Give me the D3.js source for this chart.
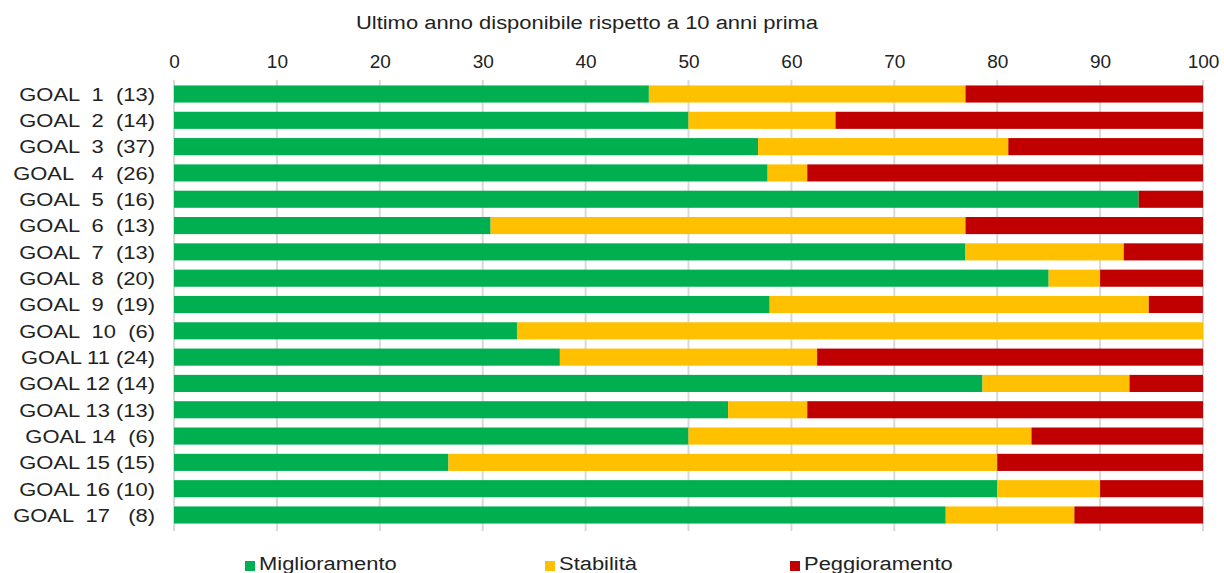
<!DOCTYPE html>
<html><head><meta charset="utf-8">
<script src="https://cdn.jsdelivr.net/npm/d3@7"></script>
<style>body{margin:0;background:#fff}svg{display:block}text{font-family:"Liberation Sans",Arial,sans-serif;fill:#222}</style>
</head><body><svg id="c" width="1224" height="573"></svg>
<script>
const categories=["GOAL  1  (13)","GOAL  2  (14)","GOAL  3  (37)","GOAL   4  (26)","GOAL  5  (16)","GOAL  6  (13)","GOAL  7  (13)","GOAL  8  (20)","GOAL  9  (19)","GOAL  10  (6)","GOAL 11 (24)","GOAL 12 (14)","GOAL 13 (13)","GOAL 14  (6)","GOAL 15 (15)","GOAL 16 (10)","GOAL  17   (8)"];
const miglioramento=[46.15,50.00,56.76,57.69,93.75,30.77,76.92,85.00,57.89,33.33,37.50,78.57,53.85,50.00,26.67,80.00,75.00];
const stabilita=[30.77,14.29,24.32,3.85,0,46.15,15.38,5.00,36.84,66.67,25.00,14.29,7.69,33.33,53.33,10.00,12.50];
const peggioramento=[23.08,35.71,18.92,38.46,6.25,23.08,7.69,10.00,5.26,0,37.50,7.14,38.46,16.67,20.00,10.00,12.50];
const seriesNames=["Miglioramento","Stabilità","Peggioramento"];
const colors=["#00B050","#FFC000","#C00000"];
const tickValues=[0,10,20,30,40,50,60,70,80,90,100];
const title="Ultimo anno disponibile rispetto a 10 anni prima";

const SX=1.155, FS=19;
const svg=d3.select("#c");
const x=d3.scaleLinear().domain([0,100]).range([174,1203]);
const y=d3.scaleBand().domain(categories).range([80.85,528.15]).paddingInner(0.35).paddingOuter(0.175);

// gridlines
svg.append("g").selectAll("line").data(tickValues).join("line")
 .attr("x1",d=>x(d)).attr("x2",d=>x(d)).attr("y1",80).attr("y2",531)
 .attr("stroke","#d9d9d9").attr("stroke-width",2);

// axis labels on top
const ax=svg.append("g").attr("transform","translate(0,74)").call(d3.axisTop(x).tickValues(tickValues).tickSize(0).tickPadding(6));
ax.select(".domain").remove();
ax.selectAll("text").attr("font-size",19).attr("fill","#222").attr("font-family","Liberation Sans, Arial, sans-serif");

svg.append("text").attr("transform","translate(587,29) scale("+SX+",1)").attr("text-anchor","middle").attr("font-size",FS).text(title);

const rows=categories.map((c,i)=>({c,vals:[miglioramento[i],stabilita[i],peggioramento[i]]}));
const stackData=rows.map(r=>{let s=0;return r.vals.map((v,k)=>{const o={c:r.c,k,x0:s,x1:s+v};s+=v;return o;});}).flat();
svg.append("g").selectAll("rect").data(stackData.filter(d=>d.x1>d.x0)).join("rect")
 .attr("x",d=>x(d.x0)).attr("width",d=>x(d.x1)-x(d.x0))
 .attr("y",d=>y(d.c)).attr("height",y.bandwidth()).attr("fill",d=>colors[d.k]);

// category labels
svg.append("g").selectAll("text").data(categories).join("text")
 .attr("transform",d=>`translate(155,${y(d)+y.bandwidth()/2}) scale(${SX},1)`).attr("dy","0.36em")
 .attr("text-anchor","end").attr("font-size",FS).style("white-space","pre").text(d=>d);

// legend
const legX=[245,545,790];
const lg=svg.append("g").selectAll("g").data(seriesNames).join("g").attr("transform",(d,i)=>`translate(${legX[i]},570)`);
lg.append("rect").attr("x",0).attr("y",-9).attr("width",10).attr("height",10).attr("fill",(d,i)=>colors[i]);
lg.append("text").attr("transform",`translate(14,0) scale(${SX},1)`).attr("font-size",FS).text(d=>d);
</script></body></html>
